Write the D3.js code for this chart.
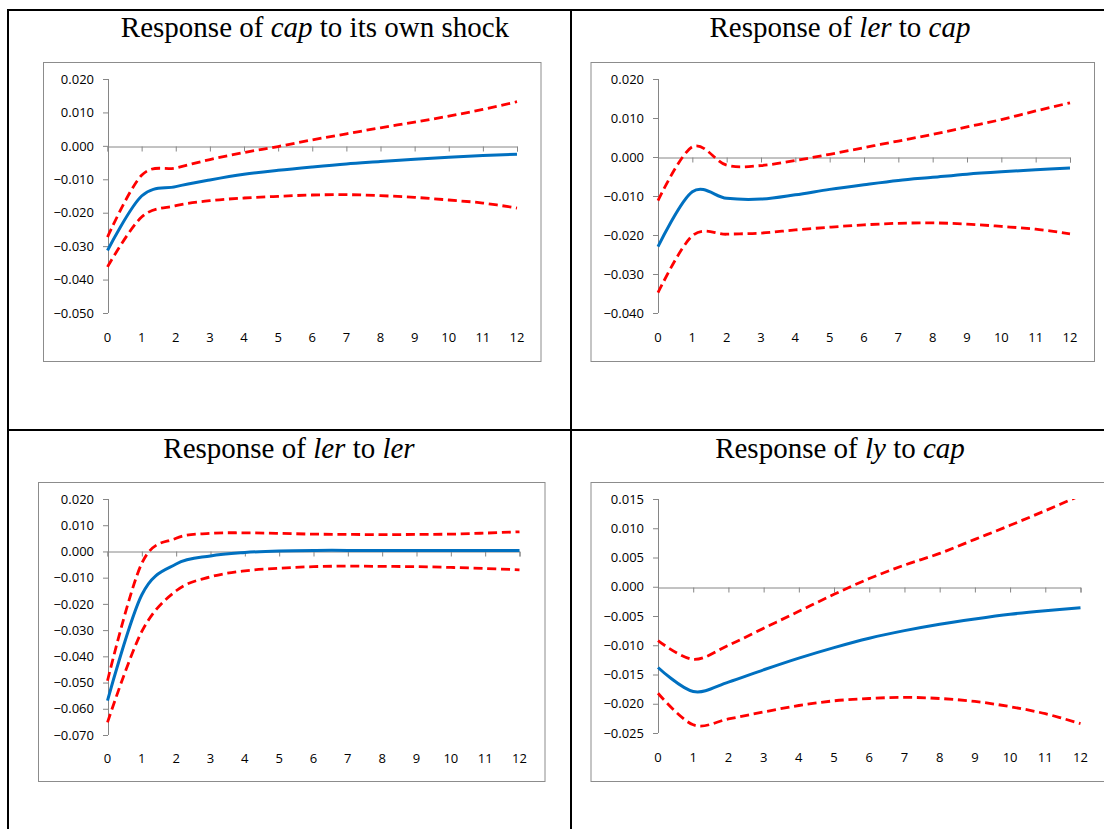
<!DOCTYPE html>
<html>
<head>
<meta charset="utf-8">
<script src="https://cdn.jsdelivr.net/npm/d3@7"></script>
<style>
  body { margin: 0; background: #fff; }
  svg { display: block; }
</style>
</head>
<body>
<div id="my_dataviz"></div>
<script>
// horizon (periods after the shock)
var steps = [0, 1, 2, 3, 4, 5, 6, 7, 8, 9, 10, 11, 12]

// Response of cap to its own shock
var capCapMid = [-0.0313, -0.0150, -0.0122, -0.0102, -0.0085, -0.0073, -0.0063, -0.0054, -0.0047, -0.0040, -0.0034, -0.0029, -0.0025]
var capCapUp  = [-0.0273, -0.0088, -0.0066, -0.0041, -0.0020, -0.0002, 0.0018, 0.0036, 0.0054, 0.0071, 0.0089, 0.0109, 0.0132]
var capCapLo  = [-0.0362, -0.0213, -0.0179, -0.0164, -0.0156, -0.0151, -0.0147, -0.0146, -0.0149, -0.0154, -0.0162, -0.0171, -0.0186]
var capCapTicks = [0.02, 0.01, 0, -0.01, -0.02, -0.03, -0.04, -0.05]

// Response of ler to cap
var lerCapMid = [-0.0230, -0.0089, -0.0106, -0.0108, -0.0097, -0.0083, -0.0071, -0.0060, -0.0052, -0.0044, -0.0038, -0.0033, -0.0028]
var lerCapUp  = [-0.0112, 0.0026, -0.0021, -0.0022, -0.0009, 0.0007, 0.0024, 0.0041, 0.0058, 0.0077, 0.0096, 0.0118, 0.0139]
var lerCapLo  = [-0.0348, -0.0202, -0.0198, -0.0195, -0.0187, -0.0180, -0.0174, -0.0170, -0.0169, -0.0172, -0.0178, -0.0185, -0.0197]
var lerCapTicks = [0.02, 0.01, 0, -0.01, -0.02, -0.03, -0.04]

// Response of ler to ler
var lerLerMid = [-0.0569, -0.0165, -0.0048, -0.0017, -0.0004, 0.0002, 0.0004, 0.0004, 0.0004, 0.0004, 0.0004, 0.0004, 0.0004]
var lerLerUp  = [-0.0493, -0.0045, 0.0050, 0.0069, 0.0071, 0.0069, 0.0066, 0.0065, 0.0064, 0.0065, 0.0066, 0.0070, 0.0075]
var lerLerLo  = [-0.0652, -0.0305, -0.0150, -0.0097, -0.0074, -0.0064, -0.0058, -0.0056, -0.0057, -0.0058, -0.0061, -0.0065, -0.0070]
var lerLerTicks = [0.02, 0.01, 0, -0.01, -0.02, -0.03, -0.04, -0.05, -0.06, -0.07]

// Response of ly to cap
var lyCapMid = [-0.0138, -0.0179, -0.0163, -0.0142, -0.0122, -0.0104, -0.0088, -0.0075, -0.0064, -0.0055, -0.0047, -0.0041, -0.0036]
var lyCapUp  = [-0.0092, -0.0124, -0.0100, -0.0071, -0.0042, -0.0013, 0.0014, 0.0037, 0.0057, 0.0081, 0.0105, 0.0130, 0.0156]
var lyCapLo  = [-0.0182, -0.0236, -0.0226, -0.0214, -0.0203, -0.0195, -0.0191, -0.0189, -0.0191, -0.0196, -0.0205, -0.0217, -0.0234]
var lyCapTicks = [0.015, 0.01, 0.005, 0, -0.005, -0.01, -0.015, -0.02, -0.025]

// titles: plain / italic pieces
var titles = [
  [["Response of ", false], ["cap", true], [" to its own shock", false]],
  [["Response of ", false], ["ler", true], [" to ", false], ["cap", true]],
  [["Response of ", false], ["ler", true], [" to ", false], ["ler", true]],
  [["Response of ", false], ["ly", true], [" to ", false], ["cap", true]]
]

// layout of each panel (page pixels)
var panels = [
  {title: titles[0], mid: capCapMid, up: capCapUp, lo: capCapLo, ticks: capCapTicks,
   box: [43, 62, 540.5, 361], xr: [107.5, 517], yr: [313, 79], tx: 315, ty: 37, lx: 342},
  {title: titles[1], mid: lerCapMid, up: lerCapUp, lo: lerCapLo, ticks: lerCapTicks,
   box: [590.5, 62, 1094, 361], xr: [658, 1070], yr: [313, 79], tx: 840, ty: 37, lx: 342},
  {title: titles[2], mid: lerLerMid, up: lerLerUp, lo: lerLerLo, ticks: lerLerTicks,
   box: [38, 482, 544.5, 781], xr: [107.5, 519.5], yr: [735, 499], tx: 289, ty: 458, lx: 763},
  {title: titles[3], mid: lyCapMid, up: lyCapUp, lo: lyCapLo, ticks: lyCapTicks,
   box: [590.5, 482, 1112, 781], xr: [658, 1080.5], yr: [733, 499], tx: 840, ty: 458, lx: 762}
]

var W = 1104, H = 829
var svg = d3.select("#my_dataviz")
  .append("svg")
    .attr("width", W)
    .attr("height", H)

// table grid lines
var grid = svg.append("g").attr("stroke", "#000").attr("stroke-width", 2)
grid.append("line").attr("x1", 7).attr("x2", W).attr("y1", 10).attr("y2", 10)
grid.append("line").attr("x1", 7).attr("x2", W).attr("y1", 430).attr("y2", 430)
grid.append("line").attr("x1", 8).attr("x2", 8).attr("y1", 9).attr("y2", H)
grid.append("line").attr("x1", 571).attr("x2", 571).attr("y1", 9).attr("y2", H)

var axisGrey = "#868686"

panels.forEach(function(p, i) {
  var g = svg.append("g")

  // title
  var t = g.append("text")
      .attr("x", p.tx)
      .attr("y", p.ty)
      .attr("text-anchor", "middle")
      .style("font-family", "'Liberation Serif', 'Times New Roman', serif")
      .style("font-size", "29px")
      .attr("fill", "#000")
  p.title.forEach(function(part) {
    t.append("tspan").text(part[0]).style("font-style", part[1] ? "italic" : "normal")
  })

  // chart box
  g.append("rect")
      .attr("x", p.box[0] + 0.5)
      .attr("y", p.box[1] + 0.5)
      .attr("width", p.box[2] - p.box[0])
      .attr("height", p.box[3] - p.box[1])
      .attr("fill", "#fff")
      .attr("stroke", "#8c8c8c")
      .attr("stroke-width", 1)

  var yDom = d3.extent(p.ticks)
  var x = d3.scaleLinear().domain([0, 12]).range(p.xr)
  var y = d3.scaleLinear().domain(yDom).range(p.yr)

  // y axis
  var yAxis = g.append("g")
      .attr("transform", "translate(" + Math.round(p.xr[0]) + ",0)")
      .call(d3.axisLeft(y).tickValues(p.ticks).tickSize(5).tickPadding(9)
        .tickFormat(d3.format(".3f")))
  yAxis.select(".domain").attr("stroke", axisGrey).attr("d", "M0.5," + y(yDom[1]) + "V" + y(yDom[0]))
  yAxis.selectAll(".tick line").attr("stroke", axisGrey)
  yAxis.selectAll(".tick text")
      .style("font-family", "'Open Sans', sans-serif")
      .style("font-size", "13px")
      .attr("fill", "#000")

  // x axis along zero, labels at the bottom
  var y0 = Math.round(y(0)) + 0.5
  var xAxis = g.append("g")
      .attr("transform", "translate(0," + y0 + ")")
      .call(d3.axisBottom(x).tickValues(steps).tickSize(5).tickFormat(""))
  xAxis.select(".domain").attr("stroke", axisGrey)
  xAxis.selectAll(".tick line").attr("stroke", axisGrey)

  g.append("g").selectAll("text")
    .data(steps)
    .enter()
    .append("text")
      .attr("x", function(d) { return x(d) })
      .attr("y", p.lx)
      .attr("text-anchor", "middle")
      .style("font-family", "'Open Sans', sans-serif")
      .style("font-size", "13px")
      .attr("fill", "#000")
      .text(function(d) { return d })

  // clip to the plot area
  var clipId = "clip" + i
  svg.append("clipPath").attr("id", clipId)
    .append("rect")
      .attr("x", p.xr[0] - 10)
      .attr("y", y(yDom[1]))
      .attr("width", p.xr[1] - p.xr[0] + 20)
      .attr("height", y(yDom[0]) - y(yDom[1]))

  var line = d3.line()
      .x(function(d, k) { return x(steps[k]) })
      .y(function(d) { return y(d) })
      .curve(d3.curveCatmullRom.alpha(0))

  var lines = g.append("g").attr("clip-path", "url(#" + clipId + ")")
  ;[p.up, p.lo].forEach(function(s) {
    lines.append("path")
        .datum(s)
        .attr("d", line)
        .attr("fill", "none")
        .attr("stroke", "#ff0000")
        .attr("stroke-width", 2.8)
        .attr("stroke-dasharray", "9,4.7")
  })
  lines.append("path")
      .datum(p.mid)
      .attr("d", line)
      .attr("fill", "none")
      .attr("stroke", "#0070c0")
      .attr("stroke-width", 3)
})
</script>
</body>
</html>
